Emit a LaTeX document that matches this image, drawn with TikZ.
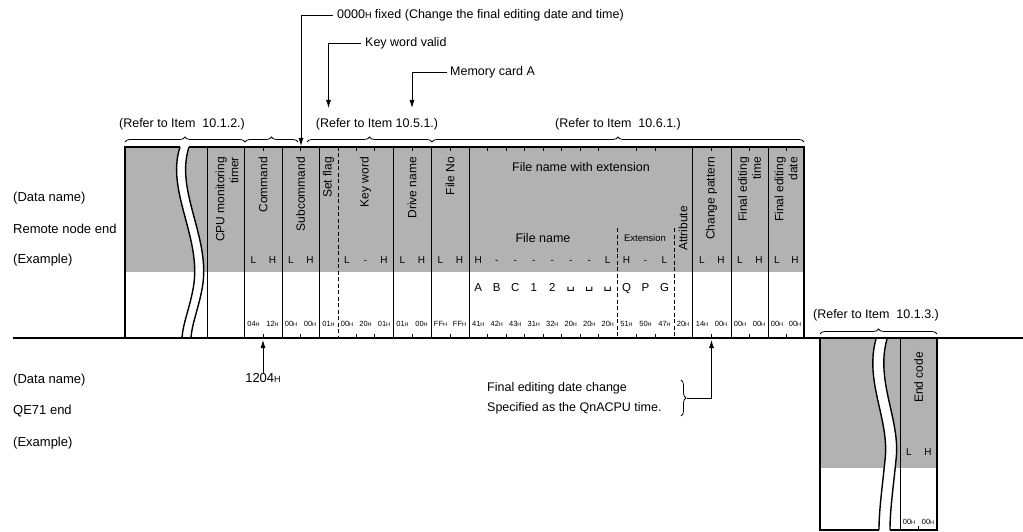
\documentclass[tikz,border=0pt]{standalone}
\usepackage{fontspec}
\setmainfont{Liberation Sans}
\newfontfamily\symfont{DejaVu Sans}
\usetikzlibrary{arrows.meta,positioning,decorations.pathreplacing}
\definecolor{DotGray}{HTML}{B2B2B2}
\newcommand{\hx}[1]{#1{\fontsize{5.5}{6}\selectfont H}}
\newcommand{\bigH}{{\fontsize{9}{9}\selectfont H}}
\newcommand{\spc}{\raisebox{3pt}{\symfont\fontsize{13}{13}\selectfont ␣}}

\begin{document}
\begin{tikzpicture}[x=1pt,y=-1pt,
  lbl/.style={anchor=west,inner sep=0pt,font=\fontsize{13}{15}\selectfont},
  ref/.style={inner sep=0pt,font=\fontsize{12.5}{14}\selectfont},
  field/.style={rotate=90,anchor=east,inner sep=0pt,align=right,font=\fontsize{12}{14}\selectfont},
  ord/.style={inner sep=0pt,text height=7pt,text depth=0pt,font=\fontsize{10}{10}\selectfont},
  chr/.style={inner sep=0pt,text height=8pt,text depth=0pt,font=\fontsize{11.5}{12}\selectfont},
  byte/.style={inner sep=0pt,text height=5.5pt,text depth=0pt,font=\fontsize{7.5}{8}\selectfont},
  frame/.style={line width=1.4pt},
  thin/.style={line width=0.6pt},
  dashline/.style={line width=0.7pt,dash pattern=on 4pt off 2.5pt},
  tick/.style={line width=0.5pt},
  arr/.style={-{Latex[length=8pt,width=5pt]},line width=0.8pt},
  brc/.style={decorate,decoration={brace,amplitude=5pt},line width=0.8pt}
]
\useasboundingbox (0,0) rectangle (1023,532);

\fill[DotGray] (125,147) rectangle (804,272);
\fill[DotGray] (820,339) rectangle (937,468);
\fill[white] (180,147) .. controls (166,190) and (200,235) .. (194,283)
  .. controls (191,305) and (183,322) .. (182,338) -- (191,338)
  .. controls (192,322) and (200,305) .. (203,283)
  .. controls (209,235) and (175,190) .. (189,147) -- cycle;
\fill[white] (876,339) .. controls (864,382) and (890,420) .. (885,460)
  .. controls (882,490) and (879,510) .. (879,530) -- (890,530)
  .. controls (890,510) and (893,490) .. (896,460)
  .. controls (901,420) and (875,382) .. (887,339) -- cycle;

\draw[frame] (182,338) -- (125,338) -- (125,147) -- (180,147);
\draw[frame] (189,147) -- (804,147) -- (804,338);
\draw[frame] (180,147) .. controls (166,190) and (200,235) .. (194,283)
  .. controls (191,305) and (183,322) .. (182,338);
\draw[frame] (189,147) .. controls (175,190) and (209,235) .. (203,283)
  .. controls (200,305) and (192,322) .. (191,338);
\draw[frame] (13,338) -- (1023,338);
\foreach \x in {207,244,282,319,393,431,469,692,731,768}
  \draw[thin] (\x,147) -- (\x,338);
\draw[dashline] (338,147) -- (338,338);
\draw[dashline] (617,228) -- (617,338);
\draw[dashline] (674,228) -- (674,338);
\foreach \x in {263,300.5,356.5,374.5,412,450,487.5,506,524.5,543,561.5,580,598.5,636,655,711.5,749.5,786}{
  \draw[tick] (\x,147) -- ++(0,4);
  \draw[tick] (\x,338) -- ++(0,-4);
}

\draw[frame] (820,339) -- (820,530) -- (879,530);
\draw[frame] (890,530) -- (937,530) -- (937,339);
\draw[frame] (876,339) .. controls (864,382) and (890,420) .. (885,460)
  .. controls (882,490) and (879,510) .. (879,530);
\draw[frame] (887,339) .. controls (875,382) and (901,420) .. (896,460)
  .. controls (893,490) and (890,510) .. (890,530);
\draw[thin] (900,339) -- (900,530);
\draw[tick] (918.5,530) -- ++(0,-4);

\node[lbl] (dn1) at (13,198) {(Data name)};
\node[lbl] (rne) at (13,229) {Remote node end};
\node[lbl] (ex1) at (13,260) {(Example)};
\node[lbl] (dn2) at (13,380) {(Data name)};
\node[lbl] (qe) at (13,411) {QE71 end};
\node[lbl] (ex2) at (13,443) {(Example)};

\node[field] (cpu) at (227,157) {CPU monitoring\\timer};
\node[field] (cmd) at (263,157) {Command};
\node[field] (sub) at (300.5,157) {Subcommand};
\node[field] (flag) at (328.5,157) {Set flag};
\node[field] (kw) at (365.5,157) {Key word};
\node[field] (drv) at (412,157) {Drive name};
\node[field] (fno) at (450,157) {File No};
\node[field,anchor=west] (attr) at (683,251) {Attribute};
\node[field] (chg) at (711.5,157) {Change pattern};
\node[field] (fet) at (749.5,157) {Final editing\\time};
\node[field] (fed) at (786,157) {Final editing\\date};
\node[field] (endc) at (918.5,352) {End code};

\node[ref] (fnx) at (581,167) {File name with extension};
\node[ref] (fn) at (543,238) {File name};
\node[ord,font=\fontsize{9.5}{10}\selectfont] (extn) at (645,238) {Extension};

\foreach \x/\t [count=\i] in {253.5/L,272.5/H,291/L,310/H,347/L,365.5/-,384/H,
    402.5/L,421.5/H,440.5/L,459.5/H,478.25/H,496.75/-,515.25/-,533.75/-,552.25/-,
    570.75/-,589.25/-,607.75/L,626.5/H,645.5/-,664.5/L,702/L,721/H,740/L,759/H,777/L,795/H}
  \node[ord] (o\i) at (\x,260) {\t};
\node[ord] (oe1) at (909,452) {L};
\node[ord] (oe2) at (928,452) {H};

\foreach \x/\t [count=\i] in {478.25/A,496.75/B,515.25/C,533.75/1,552.25/2,
    570.75/\spc,589.25/\spc,607.75/\spc,626.5/Q,645.5/P,664.5/G}
  \node[chr] (c\i) at (\x,287) {\t};

\foreach \x/\v [count=\i] in {253.5/04,272.5/12,291/00,310/00,328.5/01,347/00,365.5/20,
    384/01,402.5/01,421.5/00,440.5/FF,459.5/FF,478.25/41,496.75/42,515.25/43,533.75/31,
    552.25/32,570.75/20,589.25/20,607.75/20,626.5/51,645.5/50,664.5/47,683/20,
    702/14,721/00,740/00,759/00,777/00,795/00,909/00,928/00}
  \node[byte] (b\i) at (\x,\ifdim\x pt>900pt 522\else 324\fi) {\hx{\v}};

\draw[brc] (125,142) -- (245,142);
\draw[brc] (245,142) -- (298,142);
\draw[brc] (307,142) -- (432,142);
\draw[brc] (432,142) -- (804,142);
\draw[brc] (820,334) -- (937,334);
\node[ref] (ref1) at (182,124) {(Refer to Item\ \ 10.1.2.)};
\node[ref] (ref2) at (377,124) {(Refer to Item 10.5.1.)};
\node[ref] (ref3) at (618,124) {(Refer to Item\ \ 10.6.1.)};
\node[ref] (ref4) at (876,315) {(Refer to Item\ \ 10.1.3.)};

\node[lbl,font=\fontsize{12.5}{14}\selectfont] (fixed) at (337,15) {0000\bigH{} fixed (Change the final editing date and time)};
\node[lbl,font=\fontsize{12.5}{14}\selectfont] (kwv) at (365,43) {Key word valid};
\node[lbl,font=\fontsize{12.5}{14}\selectfont] (mca) at (450,72) {Memory card A};
\coordinate (subtop) at (301,146);
\coordinate (flagpt) at (328.5,108);
\coordinate (drvpt) at (412,108);
\draw[arr] ([xshift=-4pt]fixed.west) -| (subtop);
\draw[arr] ([xshift=-4pt]kwv.west) -| (flagpt);
\draw[arr] ([xshift=-3pt]mca.west) -| (drvpt);

\node[lbl,anchor=center] (cmdval) at (263,378) {1204\bigH};
\coordinate (cmdbot) at (263,340);
\draw[arr] (cmdval.north) -- (cmdbot);

\node[lbl,font=\fontsize{12.5}{14}\selectfont] (note1) at (487,388) {Final editing date change};
\node[lbl,font=\fontsize{12.5}{14}\selectfont] (note2) at (487,408) {Specified as the QnACPU time.};
\draw[brc] (681,380) -- (681,416);
\coordinate (notetip) at (687,398);
\coordinate (chgbot) at (711.5,340);
\draw[arr] (notetip) -| (chgbot);
\end{tikzpicture}
\end{document}
